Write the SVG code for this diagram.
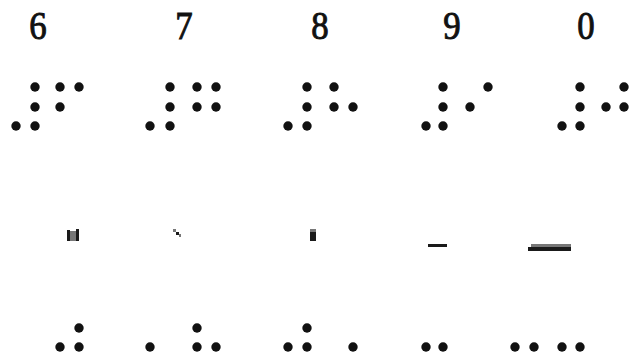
<svg xmlns="http://www.w3.org/2000/svg" width="638" height="357" viewBox="0 0 638 357">
<style>
.d{font-family:"Liberation Serif","Times New Roman",serif;font-size:41px;fill:#111;stroke:#111;stroke-width:1;text-anchor:middle}
.b{fill:#111}
.m{fill:#1a1a1a}
.g{fill:#777}
</style>
<defs><circle id="dot" r="4.7" class="b"/></defs>
<rect width="638" height="357" fill="#fff"/>
<g id="n6">
<text class="d" transform="translate(38 39) scale(0.85 1)">6</text>
<use href="#dot" x="35" y="87"/><use href="#dot" x="60" y="87"/><use href="#dot" x="79" y="87"/>
<use href="#dot" x="35" y="107"/><use href="#dot" x="60" y="107"/>
<use href="#dot" x="16" y="126"/><use href="#dot" x="35" y="126"/>
<rect class="m" x="67" y="230" width="3" height="11"/><rect class="g" x="70" y="231" width="6" height="10"/><rect class="m" x="76" y="229" width="3" height="12"/>
<use href="#dot" x="79" y="328"/>
<use href="#dot" x="60" y="347"/><use href="#dot" x="79" y="347"/>
</g>
<g id="n7">
<text class="d" transform="translate(184 39) scale(0.85 1)">7</text>
<use href="#dot" x="170" y="87"/><use href="#dot" x="197" y="87"/><use href="#dot" x="216" y="87"/>
<use href="#dot" x="170" y="107"/><use href="#dot" x="197" y="107"/><use href="#dot" x="216" y="107"/>
<use href="#dot" x="150" y="126"/><use href="#dot" x="170" y="126"/>
<rect class="g" x="173" y="229" width="3" height="3"/><rect class="m" x="176" y="232" width="3" height="3"/><rect class="g" x="179" y="234" width="2" height="3"/>
<use href="#dot" x="197" y="328"/>
<use href="#dot" x="150" y="347"/><use href="#dot" x="197" y="347"/><use href="#dot" x="216" y="347"/>
</g>
<g id="n8">
<text class="d" transform="translate(320 39) scale(0.85 1)">8</text>
<use href="#dot" x="307" y="87"/><use href="#dot" x="334" y="87"/>
<use href="#dot" x="307" y="107"/><use href="#dot" x="334" y="107"/><use href="#dot" x="353" y="107"/>
<use href="#dot" x="288" y="126"/><use href="#dot" x="307" y="126"/>
<rect class="g" x="310" y="229" width="6" height="3"/><rect class="m" x="310" y="232" width="6" height="9"/>
<use href="#dot" x="307" y="328"/>
<use href="#dot" x="288" y="347"/><use href="#dot" x="307" y="347"/><use href="#dot" x="353" y="347"/>
</g>
<g id="n9">
<text class="d" transform="translate(452 39) scale(0.85 1)">9</text>
<use href="#dot" x="443" y="87"/><use href="#dot" x="488" y="87"/>
<use href="#dot" x="443" y="107"/><use href="#dot" x="470" y="107"/>
<use href="#dot" x="426" y="126"/><use href="#dot" x="443" y="126"/>
<rect class="m" x="428" y="244" width="19" height="3"/>
<use href="#dot" x="426" y="347"/><use href="#dot" x="443" y="347"/>
</g>
<g id="n0">
<text class="d" transform="translate(586 39) scale(0.85 1)">0</text>
<use href="#dot" x="580" y="87"/><use href="#dot" x="624" y="87"/>
<use href="#dot" x="580" y="107"/><use href="#dot" x="606" y="107"/><use href="#dot" x="624" y="107"/>
<use href="#dot" x="562" y="126"/><use href="#dot" x="580" y="126"/>
<rect class="g" x="531" y="244" width="40" height="3"/><rect class="m" x="528" y="247" width="43" height="4"/>
<use href="#dot" x="515" y="347"/><use href="#dot" x="534" y="347"/><use href="#dot" x="562" y="347"/><use href="#dot" x="580" y="347"/>
</g>
<g id="connectors"/>
</svg>
